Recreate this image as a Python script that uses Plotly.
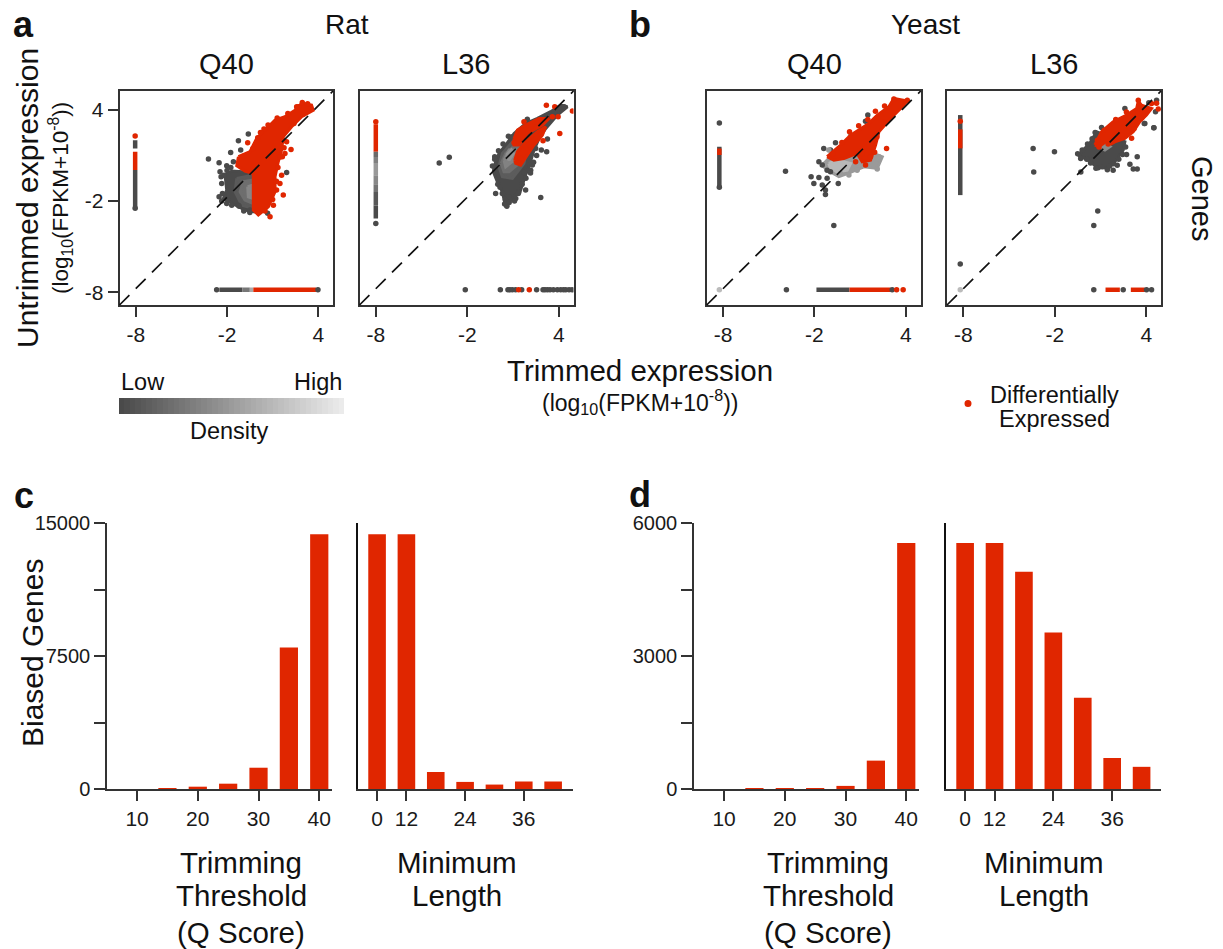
import plotly.graph_objects as go

W, H = 1223, 949
RED = "#e02600"
DARK = "#4a4a4a"
FONT = "Liberation Sans"

# ---------- scatter data (log10 FPKM) ----------
ROW_Y = -7.83
# Rat Q40
RQ_GRAY = [(-2.13,-0.30),(-1.69,-0.03),(-0.27,-0.12),(-0.27,-2.70),(-0.82,-2.59),(-1.58,-2.16),(-2.24,-1.83),(-2.02,-1.28),(-2.09,-0.73)]
RQ_LEVELS = [
    ("#5a5a5a", [(-1.36,-0.51),(-0.27,-0.30),(-0.27,-2.48),(-1.03,-2.27),(-1.47,-1.39)]),
    ("#6e6e6e", [(-0.93,-0.73),(-0.27,-0.62),(-0.27,-2.16),(-0.82,-1.94),(-1.14,-1.39)]),
    ("#868686", [(-0.64,-1.06),(-0.27,-0.95),(-0.27,-1.83),(-0.60,-1.72)]),
]
RQ_RED = [(-1.25,0.91),(-0.49,1.24),(-0.05,2.11),(0.39,2.55),(0.83,2.99),(1.16,3.32),(1.81,3.54),(2.47,3.97),(2.91,4.41),(3.56,4.30),(3.67,3.97),(2.91,3.54),(2.25,2.88),(1.70,2.22),(1.59,1.35),(1.37,0.58),(1.16,-0.40),(1.16,-1.39),(0.72,-2.38),(0.06,-2.92),(-0.27,-2.59),(-0.27,-0.19),(-0.82,-0.03),(-1.36,0.32)]
RQ_DARK_X = [-3.22,-2.52,-1.76,-1.25,-0.60,-1.10,-1.58,-2.02,-2.46,-2.39,-2.35,-2.52,-2.35,-2.02,-1.69,-1.25,-0.49,0.39,0.67,1.16,1.92,0.89,1.05,-2.3,-2.2,-2.0,-1.75,-1.95,-1.2,-0.9,-0.5]
RQ_DARK_Y = [0.76,0.52,1.19,1.96,2.40,1.35,0.58,0.32,-0.08,-0.40,-0.84,-1.72,-2.0,-2.16,-2.27,-2.27,-2.59,-2.59,-2.81,-0.73,-0.12,-1.61,-1.28,-1.5,-0.3,0.0,0.2,-1.9,-2.35,-2.65,-2.75]
RQ_RED_X = [2.95,2.58,0.43,0.02,-0.64,2.21,1.81,1.59,1.48,1.70,1.05,0.83,1.92,1.64,1.26,0.2,0.7,1.3,2.0,2.7,3.3,1.7,1.75,1.5,1.35,1.25,1.0,0.5,2.4,3.0,-0.9,-0.3]
RQ_RED_Y = [4.48,4.19,2.73,2.16,1.83,1.39,1.13,-0.30,-0.84,-1.61,-2.27,-3.03,1.89,0.91,-1.28,2.5,3.0,3.45,3.75,4.2,4.4,2.0,1.5,0.9,0.2,-0.7,-1.9,-2.65,3.1,3.7,0.95,1.45]
RQ_COL = [(1.24,0.04,RED),(0.04,-2.48,DARK),(1.46,2.0,DARK)]
RQ_COL_DOTS = [(2.27,RED),(-2.48,DARK)]
RQ_ROW = [(-2.5,-1.0,DARK),(-1.0,-0.5,"#777777"),(-0.5,-0.27,"#aaaaaa"),(-0.27,3.85,RED)]
RQ_ROW_DOTS = [(-2.68,DARK),(3.98,DARK)]

# Rat L36
RL_GRAY = [(-0.25,0.25),(0.08,1.13),(0.52,1.68),(1.07,2.44),(1.83,3.10),(2.60,3.43),(3.47,3.87),(4.13,4.30),(4.57,4.19),(3.91,3.65),(3.15,2.77),(2.71,2.11),(2.38,1.35),(2.05,0.25),(1.83,-0.29),(1.50,-1.28),(0.96,-1.83),(0.52,-2.38),(0.30,-1.39),(-0.03,-0.73),(-0.29,-0.08)]
RL_LEVELS = [
    ("#5c5c5c", [(0.08,0.25),(0.30,1.13),(1.07,2.0),(1.94,1.68),(1.72,0.47),(0.96,-0.51),(0.30,-0.40)]),
    ("#6e6e6e", [(0.23,0.47),(0.52,1.13),(1.18,1.68),(1.61,1.35),(1.39,0.47),(0.74,-0.08),(0.41,-0.08)]),
    ("#828282", [(0.41,0.69),(0.74,1.35),(1.18,1.35),(1.07,0.69),(0.52,0.25)]),
    ("#929292", [(0.58,1.02),(0.89,1.35),(1.02,1.13),(0.74,0.69)]),
]
RL_RED_A = [(1.07,2.11),(1.29,2.66),(1.83,2.99),(2.71,3.43),(3.37,3.43),(2.93,2.99),(1.94,2.44),(1.39,1.68),(1.07,1.68)]
RL_RED_B = [(1.11,0.69),(1.29,1.24),(1.83,1.89),(2.60,2.55),(3.15,2.88),(2.93,2.33),(2.38,1.68),(1.94,1.02),(1.50,0.36),(1.18,0.47)]
RL_DARK_X = [-3.84,-3.18,2.82,1.83,3.26,3.21,2.86,2.49,2.27,2.16,1.72,1.39,1.18,0.63,-0.14,0.30,0.74,-0.20,0.96,1.94,4.35,0.0,0.15,0.5,0.75,1.1,1.35,1.6,1.85,2.15,2.35,2.55,-0.35,-0.2,0.05,0.35,0.7,0.6,0.45]
RL_DARK_Y = [0.5,0.87,-1.76,-1.28,2.07,1.24,1.35,1.46,0.36,0.03,-0.12,-1.39,-1.83,-2.16,-1.5,-1.5,-1.72,0.91,2.22,3.38,4.19,-0.9,-1.1,-1.9,-2.1,-2.0,-1.5,-0.9,-0.5,-0.15,0.55,1.0,0.3,0.75,1.3,1.75,2.25,-2.35,-2.2]
RL_RED_X = [3.19,3.74,4.90,4.07,2.97,3.96,1.72,1.07,3.58,1.50,2.16,2.93,2.49]
RL_RED_Y = [4.30,4.19,3.91,2.44,1.96,3.54,3.21,1.83,3.54,0.80,1.57,3.32,2.88]
RL_COL = [(3.05,1.24,RED),(1.24,0.9,"#6a6a6a"),(0.9,0.5,"#808080"),(0.5,-0.3,"#999999"),(-0.3,-0.9,"#888888"),(-0.9,-1.4,"#747474"),(-1.4,-2.3,"#585858"),(-2.3,-3.14,DARK)]
RL_COL_DOTS = [(3.21,RED),(-3.47,DARK)]
RL_ROW = []
RL_ROW_DOTS = [(-2.13,DARK),(0.17,DARK),(0.67,DARK),(0.8,DARK),(0.96,DARK),(1.17,DARK),(1.57,DARK),(2.55,DARK),(2.97,DARK),(3.1,DARK),(3.26,DARK),(3.43,DARK),(3.65,DARK),(3.91,DARK),(4.13,DARK),(4.31,DARK),(4.46,DARK),(4.68,DARK),(4.88,DARK),(1.37,RED),(2.07,RED)]

# Yeast Q40
YQ_GRAY = [(-1.49,0.36),(-1.06,0.80),(-0.07,0.91),(0.80,1.13),(1.90,1.13),(2.45,0.91),(2.12,0.14),(1.24,0.25),(0.15,-0.19),(-0.40,-0.40),(-1.17,0.03)]
YQ_MID = [(-1.06,0.47),(-0.51,0.69),(0.37,0.47),(0.15,0.03),(-0.51,-0.08),(-0.95,0.14)]
YQ_RED = [(-1.17,0.91),(-0.29,1.68),(0.37,2.33),(1.02,2.77),(1.57,3.10),(2.12,3.65),(2.88,4.19),(3.21,4.74),(4.09,4.57),(3.65,4.08),(3.0,3.43),(2.23,2.55),(2.01,1.68),(1.68,0.69),(1.13,0.58),(0.80,1.13),(-0.07,0.80),(-0.73,0.69)]
YQ_DARK_X = [-3.9,-0.73,1.50,1.35,-0.62,-1.39,-0.95,-1.71,-1.49,-2.22,-1.71,-1.17,-2.04,-1.49,-0.44,-1.28,-1.28,-0.95,-1.17]
YQ_DARK_Y = [-0.05,-3.6,3.65,3.25,1.83,1.46,1.35,0.58,0.36,-0.40,-0.45,-0.51,-0.84,-0.95,-0.84,-1.28,-1.57,-0.08,0.03]
YQ_LIGHT_X = [2.23,2.01,2.12,0.80,0.26,0.37,-1.06,-0.29]
YQ_LIGHT_Y = [0.91,0.69,0.10,0.03,-0.29,2.33,1.35,-0.19]
YQ_RED_X = [2.73,0.70,1.35,3.21,4.09,1.68,1.13,-0.2,0.3,0.9,1.5,2.0,2.6,2.55,2.1,1.95,-0.8]
YQ_RED_Y = [1.46,0.58,0.36,4.70,4.63,0.91,1.13,1.85,2.55,2.95,3.35,3.9,4.25,3.2,2.2,1.2,1.1]
YQ_COL = [(1.57,-1.1,DARK),(1.46,1.02,RED)]
YQ_COL_DOTS = [(3.12,DARK),(-1.1,DARK)]
YQ_ROW = [(-1.87,0.3,DARK),(0.3,3.0,RED)]
YQ_ROW_DOTS = [(-3.84,DARK),(3.1,DARK),(3.39,RED),(3.82,RED),(-8.24,"#bbbbbb")]

# Yeast L36
YL_GRAY = [(-0.47,1.02),(0.30,1.79),(0.74,2.55),(1.94,2.11),(2.60,1.89),(2.49,1.35),(1.94,0.58),(1.50,0.14),(0.74,0.25),(0.19,0.69)]
YL_MID = [(1.07,1.46),(1.39,1.68),(1.61,1.57),(1.29,1.35)]
YL_RED = [(0.63,1.68),(1.07,2.55),(1.83,3.21),(2.71,3.65),(3.37,4.08),(3.48,4.57),(3.69,4.30),(4.35,4.08),(4.02,3.65),(3.58,3.21),(3.15,2.55),(2.60,2.11),(1.94,1.89),(1.18,1.46)]
YL_DARK_X = [-3.42,-2.02,-3.38,0.82,0.56,-0.29,3.41,3.15,2.93,4.5,3.91,4.61,4.68,4.17,2.60,1.07,2.71,1.83,0.85,3.41,4.5,3.87,-8.2,-0.5,-0.3,-0.2,0.1,0.35,0.7,1.1,1.45,1.85,2.2,2.45,2.65,0.15,0.45,0.65,2.1,1.6]
YL_DARK_Y = [1.46,1.24,-0.09,-2.66,-3.6,-0.09,0.91,0.10,0.41,2.82,3.1,3.87,4.63,4.46,4.08,2.84,1.06,0.03,0.19,0.1,2.81,3.1,-6.14,1.1,0.8,1.35,0.75,0.5,0.15,0.25,0.05,0.45,0.75,1.05,1.55,1.75,2.1,2.5,0.35,0.3]
YL_RED_X = [3.04,3.48,4.79,4.35,4.68,0.8,1.25,2.0,2.7,3.7,3.2,2.4,1.5,0.9]
YL_RED_Y = [2.12,4.63,4.04,4.41,4.42,2.0,2.65,3.35,3.85,3.45,2.75,2.3,1.75,1.55]
YL_COL = [(3.65,-1.61,DARK),(2.71,1.46,RED)]
YL_COL_DOTS = [(3.24,RED)]
YL_ROW = [(1.33,2.27,RED),(2.99,3.91,RED)]
YL_ROW_DOTS = [(0.56,DARK),(2.49,DARK),(4.02,DARK),(4.35,DARK),(-8.2,"#bbbbbb")]

# ---------- bar data ----------
Q_THRESH = [10, 15, 20, 25, 30, 35, 40]
MIN_LEN = ["0", "12", "18", "24", "30", "36", "42"]
RAT_Q = [0, 15, 130, 300, 1200, 7980, 14360]
RAT_L = [14360, 14360, 960, 400, 250, 420, 420]
YEAST_Q = [0, 5, 8, 10, 70, 640, 5550]
YEAST_L = [5550, 5550, 4900, 3530, 2060, 700, 500]
DENSITY = list(range(0, 41))
LOG_TICKS = [-8, -2, 4]

fig = go.Figure()
px_x = lambda p: p / W
px_y = lambda p: 1 - p / H


def poly(ax, pts, color):
    xs = [p[0] for p in pts] + [pts[0][0]]
    ys = [p[1] for p in pts] + [pts[0][1]]
    fig.add_trace(go.Scatter(x=xs, y=ys, mode="lines", fill="toself", fillcolor=color,
                             line=dict(color=color, width=3, shape="linear"),
                             xaxis="x" + ax, yaxis="y" + ax, hoverinfo="skip"))


def dots(ax, xs, ys, color):
    fig.add_trace(go.Scatter(x=xs, y=ys, mode="markers", marker=dict(color=color, size=5.5, line_width=0),
                             xaxis="x" + ax, yaxis="y" + ax, hoverinfo="skip"))


def seg(ax, xs, ys, color):
    fig.add_trace(go.Scatter(x=xs, y=ys, mode="lines", line=dict(color=color, width=4.5),
                             xaxis="x" + ax, yaxis="y" + ax, hoverinfo="skip"))


def strips(ax, col_x, col, col_dots, row, row_dots):
    for a, b, c in col:
        seg(ax, [col_x, col_x], [a, b], c)
    for y, c in col_dots:
        dots(ax, [col_x], [y], c)
    for a, b, c in row:
        seg(ax, [a, b], [ROW_Y, ROW_Y], c)
    for x, c in row_dots:
        dots(ax, [x], [ROW_Y], c)


# panel 1
poly("10", RQ_GRAY, DARK)
for c, pts in RQ_LEVELS:
    poly("10", pts, c)
dots("10", RQ_DARK_X, RQ_DARK_Y, DARK)
poly("10", RQ_RED, RED); dots("10", RQ_RED_X, RQ_RED_Y, RED)
strips("10", -8.04, RQ_COL, RQ_COL_DOTS, RQ_ROW, RQ_ROW_DOTS)
# panel 2
poly("2", RL_GRAY, DARK)
for c, pts in RL_LEVELS:
    poly("2", pts, c)
dots("2", RL_DARK_X, RL_DARK_Y, DARK)
poly("2", RL_RED_A, RED); poly("2", RL_RED_B, RED); dots("2", RL_RED_X, RL_RED_Y, RED)
strips("2", -8.0, RL_COL, RL_COL_DOTS, RL_ROW, RL_ROW_DOTS)
# panel 3
poly("3", YQ_GRAY, "#9a9a9a"); poly("3", YQ_MID, "#b8b8b8")
dots("3", YQ_DARK_X, YQ_DARK_Y, DARK); dots("3", YQ_LIGHT_X, YQ_LIGHT_Y, "#9a9a9a")
poly("3", YQ_RED, RED); dots("3", YQ_RED_X, YQ_RED_Y, RED)
strips("3", -8.24, YQ_COL, YQ_COL_DOTS, YQ_ROW, YQ_ROW_DOTS)
# panel 4
poly("4", YL_GRAY, DARK)
dots("4", YL_DARK_X, YL_DARK_Y, DARK)
poly("4", YL_RED, RED); poly("4", YL_MID, "#8a8a8a"); dots("4", YL_RED_X, YL_RED_Y, RED)
strips("4", -8.2, YL_COL, YL_COL_DOTS, YL_ROW, YL_ROW_DOTS)

# bars
for ax, xs, ys in [("5", Q_THRESH, RAT_Q), ("6", MIN_LEN, RAT_L), ("7", Q_THRESH, YEAST_Q), ("8", MIN_LEN, YEAST_L)]:
    fig.add_trace(go.Bar(x=xs, y=ys, marker=dict(color=RED, line_width=0), xaxis="x" + ax, yaxis="y" + ax, hoverinfo="skip"))

# density bar
fig.add_trace(go.Heatmap(z=[DENSITY], colorscale=[[0, "#4a4a4a"], [1, "#ebebeb"]], showscale=False,
                         xaxis="x9", yaxis="y9", hoverinfo="skip"))

layout = dict(width=W, height=H, margin=dict(l=0, r=0, t=0, b=0, autoexpand=False), showlegend=False, autosize=False,
              paper_bgcolor="white", plot_bgcolor="white", bargap=0.4,
              font=dict(family=FONT, color="#1a1a1a", size=20))


def box_axes(n, x0, x1, y0, y1, xt, yt):
    layout["xaxis" + n] = dict(domain=[px_x(x0), px_x(x1)], range=[-9.07, 4.97], anchor="y" + n, zeroline=False, showgrid=False,
                               showline=True, mirror=True, linecolor="#333333", linewidth=1.5,
                               tickmode="array", tickvals=LOG_TICKS, ticktext=[str(v) for v in LOG_TICKS],
                               ticks="outside", ticklen=10, tickwidth=1.5, tickcolor="#333333", tickfont=dict(size=21))
    layout["yaxis" + n] = dict(domain=[px_y(y1), px_y(y0)], range=[-8.83, 5.23], anchor="x" + n, zeroline=False, showgrid=False,
                               showline=True, mirror=True, linecolor="#333333", linewidth=1.5,
                               tickmode="array", tickvals=LOG_TICKS if yt else [], ticktext=[str(v) for v in LOG_TICKS] if yt else [],
                               showticklabels=yt,
                               ticks="outside" if yt else "", ticklen=10, tickwidth=1.5, tickcolor="#333333", tickfont=dict(size=21))


box_axes("10", 119.5, 333, 91, 305, True, True)
box_axes("2", 359.5, 573.5, 91, 305, True, False)
box_axes("3", 706.7, 920.7, 91, 305, True, False)
box_axes("4", 947, 1161, 91, 305, True, False)


def bar_axes(nq, nl, ymax, ylabels, q0, q1, l0, l1):
    layout["xaxis" + nq] = dict(domain=[px_x(q0), px_x(q1)], range=[5.05, 42.1], anchor="y" + nq, showgrid=False, zeroline=False,
                                showline=True, linecolor="#333333", linewidth=1.5, tickmode="array", tickvals=[10, 20, 30, 40],
                                ticks="outside", ticklen=10, tickwidth=1.5, tickcolor="#333333", tickfont=dict(size=21))
    layout["yaxis" + nq] = dict(domain=[px_y(789), px_y(523)], range=[0, ymax], anchor="x" + nq, showgrid=False, zeroline=False,
                                showline=True, linecolor="#333333", linewidth=1.5, tickmode="array",
                                tickvals=[0, ymax / 2, ymax], ticktext=ylabels,
                                ticks="outside", ticklen=11, tickwidth=1.5, tickcolor="#333333", tickfont=dict(size=20),
                                minor=dict(tickmode="array", tickvals=[ymax / 4, 3 * ymax / 4], ticks="outside", ticklen=11, tickwidth=1.5, tickcolor="#333333"))
    layout["xaxis" + nl] = dict(domain=[px_x(l0), px_x(l1)], type="category", range=[-0.65, 6.66], anchor="y" + nl, showgrid=False, zeroline=False,
                                showline=True, linecolor="#333333", linewidth=1.5, tickmode="array", tickvals=["0", "12", "24", "36"],
                                ticks="outside", ticklen=10, tickwidth=1.5, tickcolor="#333333", tickfont=dict(size=21))
    layout["yaxis" + nl] = dict(domain=[px_y(789), px_y(523)], range=[0, ymax], anchor="x" + nl, showgrid=False, zeroline=False,
                                showline=True, linecolor="#111111", linewidth=1.5, showticklabels=False, ticks="")


bar_axes("5", "6", 15000, ["0", "7500", "15000"], 107, 332, 358, 572.5)
bar_axes("7", "8", 6000, ["0", "3000", "6000"], 694, 919, 946, 1161)

layout["xaxis9"] = dict(domain=[px_x(119), px_x(344)], visible=False, anchor="y9", range=[-0.5, 40.5])
layout["yaxis9"] = dict(domain=[px_y(414), px_y(398)], visible=False, anchor="x9", range=[-0.5, 0.5])

shapes = []
for n in ["10", "2", "3", "4"]:
    shapes.append(dict(type="line", xref=f"x{n} domain", yref=f"y{n} domain", x0=0, y0=0, x1=1, y1=1,
                       line=dict(color="#111111", width=1.7, dash="14px,9px"), layer="above"))
shapes.append(dict(type="circle", xref="paper", yref="paper", x0=px_x(964.5), x1=px_x(971.5), y0=px_y(407), y1=px_y(400),
                   fillcolor=RED, line_width=0))
layout["shapes"] = shapes

ann = []


def text(t, x, y, size, angle=0, bold=False):
    ann.append(dict(text=f"<b>{t}</b>" if bold else t, x=px_x(x), y=px_y(y), xref="paper", yref="paper", showarrow=False,
                    xanchor="center", yanchor="middle", textangle=angle, align="center",
                    font=dict(size=size, family=FONT, color="#111111")))


for t, x, y in [("a", 23, 24), ("b", 640, 24), ("c", 24, 496), ("d", 640, 494)]:
    text(t, x, y, 36, bold=True)
text("Rat", 347, 24, 28)
text("Yeast", 925, 24, 28)
for t, x in [("Q40", 226), ("L36", 466), ("Q40", 814), ("L36", 1054)]:
    text(t, x, 64, 29)
text("Untrimmed expression", 27, 198, 30, angle=-90)
text("(log<sub>10</sub>(FPKM+10<sup>-8</sup>))", 60, 198, 22.5, angle=-90)
text("Genes", 1202, 198, 29, angle=90)
text("Trimmed expression", 640, 370, 29.5)
text("(log<sub>10</sub>(FPKM+10<sup>-8</sup>))", 640, 402, 23)
text("Low", 143, 382, 23.5)
text("High", 318, 382, 23.5)
text("Density", 229, 431, 23.5)
text("Differentially", 1054, 395, 23.5)
text("Expressed", 1054, 419, 23.5)
text("Biased Genes", 32, 653, 30, angle=-90)
for cx in (241, 828):
    text("Trimming", cx, 862, 29.5)
    text("Threshold", cx, 895, 29.5)
    text("(Q Score)", cx, 932, 29.5)
for cx in (457, 1044):
    text("Minimum", cx, 862, 29.5)
    text("Length", cx, 895, 29.5)
layout["annotations"] = ann

fig.update_layout(**layout)
fig.write_html("out.html", config={"displayModeBar": False}, post_script="document.body.style.margin='0';")
